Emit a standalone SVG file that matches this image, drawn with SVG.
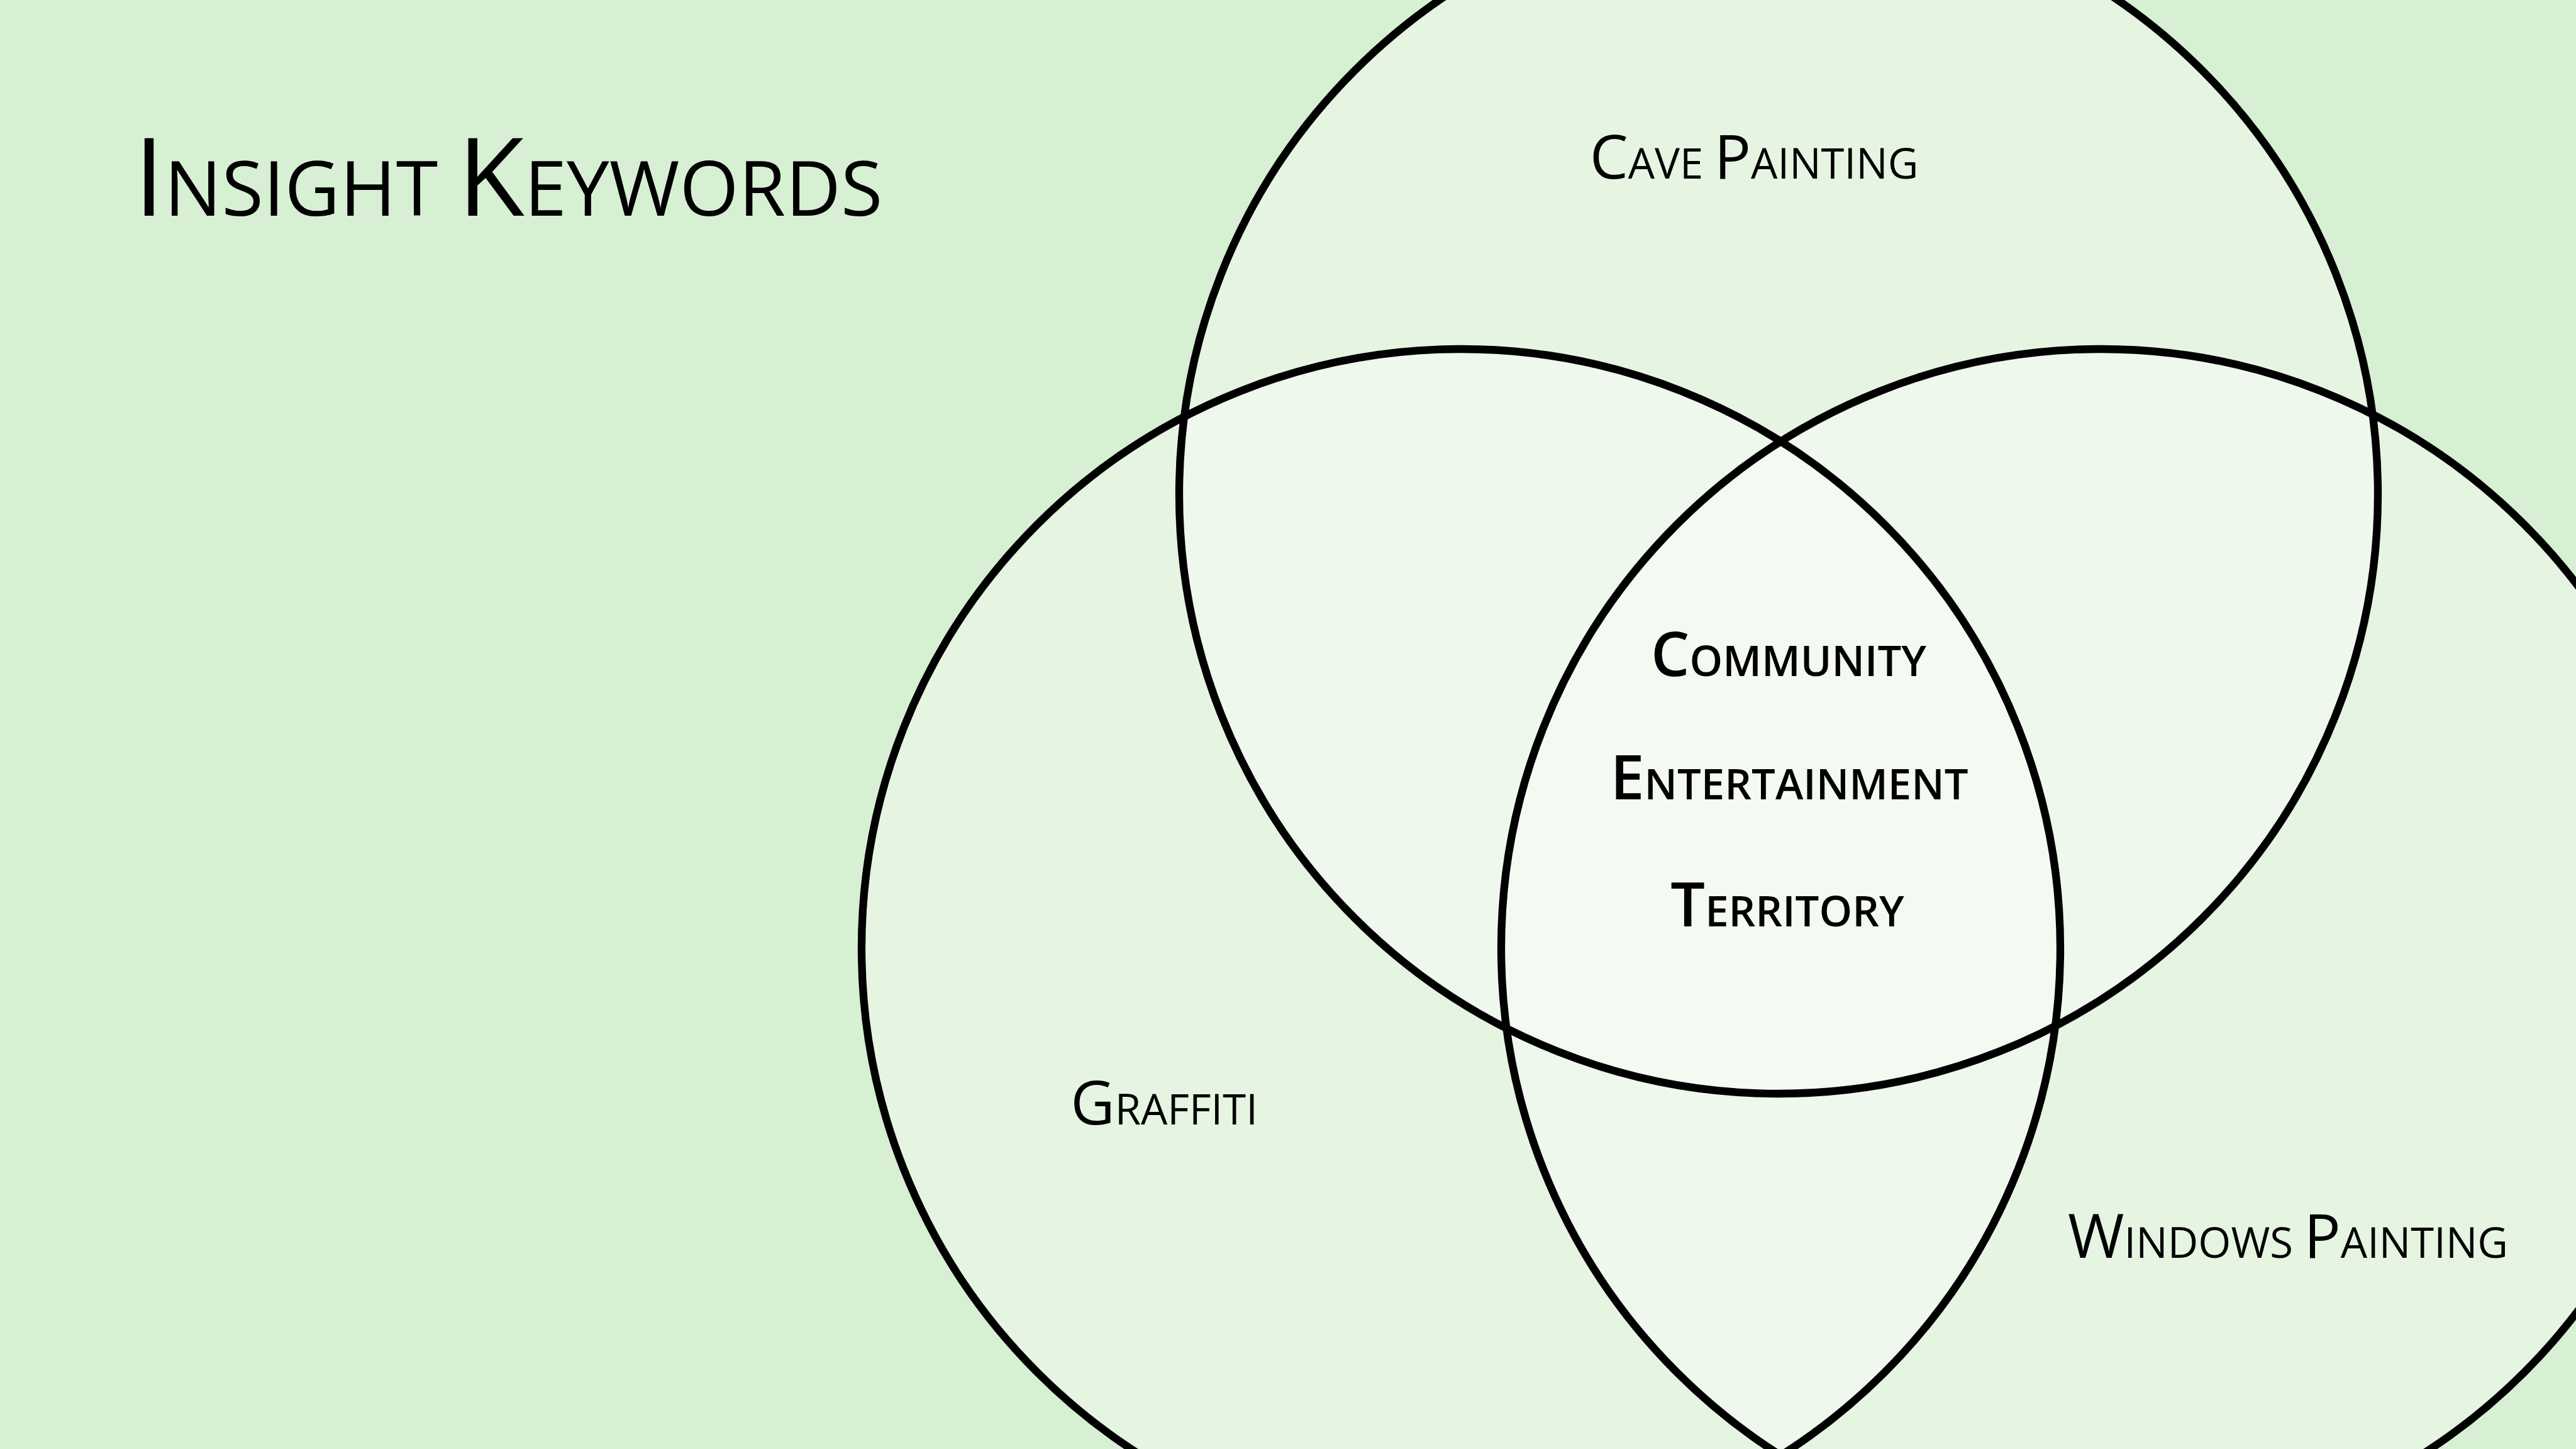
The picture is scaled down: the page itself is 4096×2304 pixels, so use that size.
<svg xmlns="http://www.w3.org/2000/svg" width="4096" height="2304" viewBox="0 0 4096 2304">
<style>
.bg{fill:#d7f0d3}
.disk{fill:#ffffff;fill-opacity:0.35;stroke:none}
.ring{fill:none;stroke:#000000;stroke-width:12.3}
.lbl{font-family:"Open Sans","Liberation Sans",sans-serif;fill:#000000;font-weight:400}
.key{font-family:"Open Sans","Liberation Sans",sans-serif;fill:#000000;font-weight:600}
.t-big{font-size:173px}
.t-sm{font-size:121px}
.l-big{font-size:97px}
.l-sm{font-size:67px}
</style>
<rect class="bg" x="0" y="0" width="4096" height="2304"/>
<g id="title">
<text class="lbl" x="213" y="343"><tspan class="t-big">I</tspan><tspan class="t-sm">NSIGHT </tspan><tspan class="t-big">K</tspan><tspan class="t-sm">EYWORDS</tspan></text>
</g>
<g id="circle-cave-painting">
<circle class="disk" cx="2828" cy="786" r="953"/>
<text class="lbl" x="2789" y="284" text-anchor="middle"><tspan class="l-big">C</tspan><tspan class="l-sm">AVE </tspan><tspan class="l-big">P</tspan><tspan class="l-sm">AINTING</tspan></text>
</g>
<g id="circle-graffiti">
<circle class="disk" cx="2323" cy="1508" r="953"/>
<text class="lbl" x="1851" y="1788" text-anchor="middle"><tspan class="l-big">G</tspan><tspan class="l-sm">RAFFITI</tspan></text>
</g>
<g id="circle-windows-painting">
<circle class="disk" cx="3340" cy="1508" r="953"/>
<text class="lbl" x="3638" y="2000" text-anchor="middle"><tspan class="l-big">W</tspan><tspan class="l-sm">INDOWS </tspan><tspan class="l-big">P</tspan><tspan class="l-sm">AINTING</tspan></text>
</g>
<g id="outlines">
<circle class="ring" cx="2828" cy="786" r="953"/>
<circle class="ring" cx="2323" cy="1508" r="953"/>
<circle class="ring" cx="3340" cy="1508" r="953"/>
</g>
<g id="shared-keywords">
<text class="key" x="2844" y="1075" text-anchor="middle"><tspan class="l-big">C</tspan><tspan class="l-sm">OMMUNITY</tspan></text>
<text class="key" x="2845" y="1271" text-anchor="middle"><tspan class="l-big">E</tspan><tspan class="l-sm">NTERTAINMENT</tspan></text>
<text class="key" x="2842" y="1473" text-anchor="middle"><tspan class="l-big">T</tspan><tspan class="l-sm">ERRITORY</tspan></text>
</g>
<g id="connectors"/>
</svg>
